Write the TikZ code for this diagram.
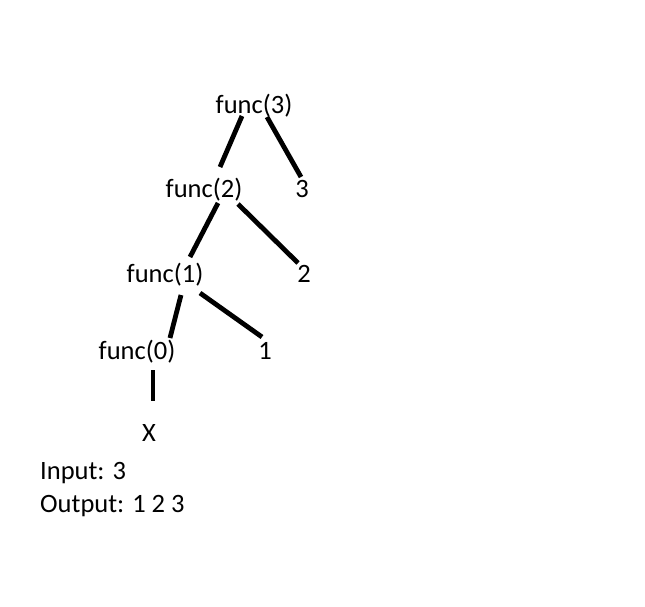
\documentclass[tikz,border=0pt]{standalone}
\usepackage{fontspec}
\setmainfont{Carlito}
\begin{document}
\begin{tikzpicture}[x=1pt,y=-1pt,
  lbl/.style={inner sep=0pt,anchor=base,font=\fontsize{26.5}{31}\selectfont},
  lft/.style={inner sep=0pt,anchor=base west,font=\fontsize{26.5}{31}\selectfont},
  edge/.style={line width=4.8pt,black}]
\fill[white] (0,0) rectangle (645,606);
\useasboundingbox (0,0) rectangle (645,606);
\node[lbl] (f3) at (254,113) {func(3)};
\node[lbl] (f2) at (204,197) {func(2)};
\node[lbl] (n3) at (302,197) {3};
\node[lbl] (f1) at (165,282) {func(1)};
\node[lbl] (n2) at (304,282) {2};
\node[lbl] (f0) at (137,359) {func(0)};
\node[lbl] (n1) at (265,359) {1};
\node[lbl] (x) at (149,441) {X};
\node[lft] (in) at (40,479) {Input: 3};
\node[lft] (out) at (40,512) {Output: 1 2 3};
% connector end points
\coordinate (a1) at (242,116); \coordinate (a2) at (220,167);
\coordinate (b1) at (267,117); \coordinate (b2) at (301,177);
\coordinate (c1) at (218,203); \coordinate (c2) at (190,257);
\coordinate (d1) at (238,204); \coordinate (d2) at (298,263);
\coordinate (e1) at (181,295); \coordinate (e2) at (170,338);
\coordinate (g1) at (200,293); \coordinate (g2) at (262,337);
\coordinate (h1) at (153,370); \coordinate (h2) at (153,401);
\draw[edge] (a1) -- (a2);
\draw[edge] (b1) -- (b2);
\draw[edge] (c1) -- (c2);
\draw[edge] (d1) -- (d2);
\draw[edge] (e1) -- (e2);
\draw[edge] (g1) -- (g2);
\draw[edge] (h1) -- (h2);
\end{tikzpicture}
\end{document}
